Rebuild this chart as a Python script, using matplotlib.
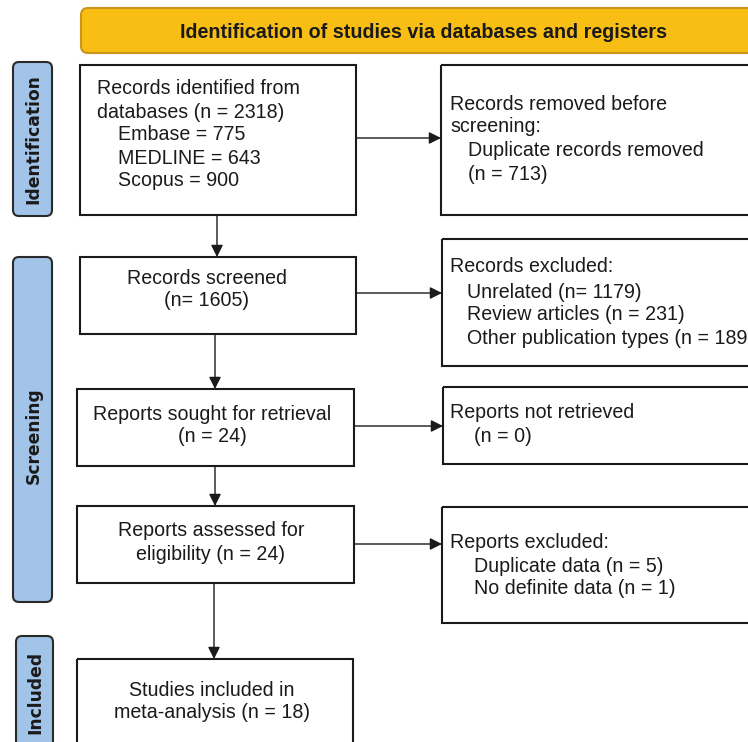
import matplotlib.pyplot as plt
from matplotlib.patches import FancyBboxPatch, Rectangle

# counts
db_total = 2318
db_names = ['Embase', 'MEDLINE', 'Scopus']
db_counts = [775, 643, 900]
duplicates = 713
screened = 1605
excl_reasons = ['Unrelated', 'Review articles', 'Other publication types']
excl_counts = [1179, 231, 189]
sought = 24
not_retrieved = 0
assessed = 24
rep_excl_reasons = ['Duplicate data', 'No definite data']
rep_excl_counts = [5, 1]
included = 18

stages = ['Identification', 'Screening', 'Included']
banner = 'Identification of studies via databases and registers'

plt.rcParams['font.family'] = ['Liberation Sans', 'DejaVu Sans']

fig = plt.figure(figsize=(7.48, 7.42), dpi=100)
ax = fig.add_axes([0, 0, 1, 1])
ax.set_xlim(0, 748)
ax.set_ylim(742, 0)
ax.axis('off')

FS = 14.1

def box(x0, y0, x1, y1):
    ax.add_patch(Rectangle((x0, y0), x1 - x0, y1 - y0, fill=False,
                           edgecolor='#1a1a1a', lw=1.5, zorder=2))

def pill(x0, y0, x1, y1, fc, ec, r):
    ax.add_patch(FancyBboxPatch((x0 + r, y0 + r), x1 - x0 - 2 * r, y1 - y0 - 2 * r,
                                boxstyle=f'round,pad={r}', fc=fc, ec=ec, lw=1.5,
                                zorder=2, mutation_aspect=1))

def arrow(x0, y0, x1, y1):
    ax.annotate('', xy=(x1, y1), xytext=(x0, y0),
                arrowprops=dict(arrowstyle='-|>', color='#1a1a1a', lw=1.0,
                                mutation_scale=18, shrinkA=0, shrinkB=0))

def lines(x, ys, texts, ha='left'):
    for y, t in zip(ys, texts):
        ax.text(x, y, t, fontsize=FS, ha=ha, va='center', color='#1a1a1a')

# banner
pill(81, 8, 760, 53, '#F9BE14', '#C9961A', 7)
ax.text(424, 33, banner, fontsize=14.2, fontweight='bold', ha='center',
        va='center', color='#1a1a1a')

# side stage labels
side = [(13, 62, 52, 216), (13, 257, 52, 602), (16, 636, 53, 760)]
label_y = [139, 436, 692]
for (x0, y0, x1, y1), s, ly in zip(side, stages, label_y):
    pill(x0, y0, x1, y1, '#A2C4E8', '#2a2a2a', 6)
    ax.text((x0 + x1) / 2 + 1, ly, s, rotation=90, fontsize=12.3,
            fontweight='bold', ha='center', va='center',
            family='DejaVu Sans', color='#1a1a1a')

# left column boxes
box(80, 65, 356, 215)
lines(97, [89, 112], ['Records identified from', f'databases (n = {db_total})'])
lines(118, [135, 158, 181], [f'{n} = {c}' for n, c in zip(db_names, db_counts)])

box(80, 257, 356, 334)
lines(207, [278, 301], ['Records screened', f'(n= {screened})'], ha='center')

box(77, 389, 354, 466)
lines(212, [414, 437], ['Reports sought for retrieval', f'(n = {sought})'], ha='center')

box(77, 506, 354, 583)
lines(211, [531, 554], ['Reports assessed for', f'eligibility (n = {assessed})'], ha='center')

box(77, 659, 353, 770)
lines(212, [690, 713], ['Studies included in', f'meta-analysis (n = {included})'], ha='center')

# right column boxes
box(441, 65, 770, 215)
lines(450, [104, 127], ['Records removed before', 'screening:'])
lines(468, [151], ['Duplicate records removed'])
lines(468, [175], [f'(n = {duplicates})'])

box(442, 239, 770, 366)
lines(450, [267], ['Records excluded:'])
exc = [f'{r} (n= {c})' if i == 0 else f'{r} (n = {c})'
       for i, (r, c) in enumerate(zip(excl_reasons, excl_counts))]
exc[-1] = exc[-1].rstrip(')')
lines(467, [292, 315, 338], exc)

box(443, 387, 770, 464)
lines(450, [413], ['Reports not retrieved'])
lines(474, [437], [f'(n = {not_retrieved})'])

box(442, 507, 770, 623)
lines(450, [543], ['Reports excluded:'])
lines(474, [566, 589], [f'{r} (n = {c})' for r, c in zip(rep_excl_reasons, rep_excl_counts)])

# arrows
arrow(217, 215, 217, 257)
arrow(215, 334, 215, 389)
arrow(215, 466, 215, 506)
arrow(214, 583, 214, 659)
arrow(356, 138, 441, 138)
arrow(356, 293, 442, 293)
arrow(354, 426, 443, 426)
arrow(354, 544, 442, 544)

fig.savefig('out.png', dpi=100)
